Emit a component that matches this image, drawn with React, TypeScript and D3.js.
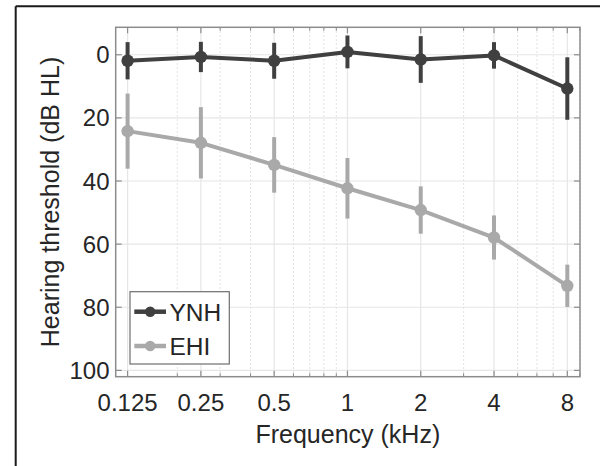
import React from "react";
import * as d3 from "d3";

const frequencies = [0.125, 0.25, 0.5, 1, 2, 4, 8];
const freqLabels = ["0.125", "0.25", "0.5", "1", "2", "4", "8"];
const ynhMean = [1.9, 0.7, 1.9, -0.9, 1.5, 0.2, 10.7];
const ynhErr = [5.9, 4.8, 5.7, 5.2, 7.4, 4.2, 9.9];
const ehiMean = [24.2, 27.9, 34.9, 42.3, 49.2, 57.9, 73.2];
const ehiErr = [11.9, 11.3, 8.8, 9.6, 7.5, 7.0, 6.7];
const yTicks = [0, 20, 40, 60, 80, 100];
const minorX = [0.2, 0.3, 0.4, 0.6, 0.7, 0.8, 0.9, 3, 5, 6, 7, 9];
const seriesNames = ["YNH", "EHI"];
const seriesColors = ["#404040", "#a9a9a9"];

const W = 600, H = 466;
const L = 115.7, R = 580, T = 27.3, B = 376.7;
const FONT = "'Liberation Sans', Arial, Helvetica, sans-serif";

export default function App() {
  const x = d3.scaleLog().domain([0.1117, 9.02]).range([L, R]);
  const y = d3.scaleLinear().domain([-8.7, 102]).range([T, B]);
  const series = [
    { name: seriesNames[0], mean: ynhMean, err: ynhErr, color: seriesColors[0] },
    { name: seriesNames[1], mean: ehiMean, err: ehiErr, color: seriesColors[1] },
  ];
  const line = d3.line<number>().x((_, i) => x(frequencies[i])).y((d) => y(d));
  const axisColor = "#8c8c8c";
  const textColor = "#262626";

  return (
    <svg width={W} height={H} style={{ position: "absolute", left: 0, top: 0, background: "#fff" }} fontFamily={FONT}>
      <rect x={0} y={0} width={W} height={H} fill="#fff" />
      {/* outer frame */}
      <line x1={15.7} y1={6.2} x2={W} y2={6.2} stroke="#1a1a1a" strokeWidth={2} />
      <line x1={15.7} y1={6.2} x2={15.7} y2={H} stroke="#1a1a1a" strokeWidth={2} />

      {/* minor grid */}
      {minorX.map((f) => (
        <line key={"mg" + f} x1={x(f)} x2={x(f)} y1={T} y2={B} stroke="#cfcfcf" strokeWidth={0.8} strokeDasharray="1.5,2.5" />
      ))}
      {/* major grid */}
      {frequencies.map((f) => (
        <line key={"gx" + f} x1={x(f)} x2={x(f)} y1={T} y2={B} stroke="#e6e6e6" strokeWidth={1.2} />
      ))}
      {yTicks.map((v) => (
        <line key={"gy" + v} x1={L} x2={R} y1={y(v)} y2={y(v)} stroke="#e6e6e6" strokeWidth={1.2} />
      ))}

      {/* axes box */}
      <rect x={L} y={T} width={R - L} height={B - T} fill="none" stroke={axisColor} strokeWidth={1.5} />
      {/* ticks */}
      {frequencies.map((f) => (
        <g key={"tx" + f}>
          <line x1={x(f)} x2={x(f)} y1={B} y2={B - 6} stroke={axisColor} strokeWidth={1.2} />
          <line x1={x(f)} x2={x(f)} y1={T} y2={T + 6} stroke={axisColor} strokeWidth={1.2} />
        </g>
      ))}
      {minorX.map((f) => (
        <g key={"mtx" + f}>
          <line x1={x(f)} x2={x(f)} y1={B} y2={B - 3.5} stroke={axisColor} strokeWidth={1} />
          <line x1={x(f)} x2={x(f)} y1={T} y2={T + 3.5} stroke={axisColor} strokeWidth={1} />
        </g>
      ))}
      {yTicks.map((v) => (
        <g key={"ty" + v}>
          <line x1={L} x2={L + 6} y1={y(v)} y2={y(v)} stroke={axisColor} strokeWidth={1.2} />
          <line x1={R} x2={R - 6} y1={y(v)} y2={y(v)} stroke={axisColor} strokeWidth={1.2} />
        </g>
      ))}

      {/* tick labels */}
      {frequencies.map((f, i) => (
        <text key={"lx" + f} x={x(f)} y={410.7} textAnchor="middle" fontSize={24} fill={textColor}>
          {freqLabels[i]}
        </text>
      ))}
      {yTicks.map((v) => (
        <text key={"ly" + v} x={109.5} y={y(v) + 8.6} textAnchor="end" fontSize={24} fill={textColor}>
          {v}
        </text>
      ))}

      {/* axis labels */}
      <text x={(L + R) / 2} y={443} textAnchor="middle" fontSize={25} fill={textColor}>
        Frequency (kHz)
      </text>
      <text
        transform={`translate(59.3, ${(T + B) / 2}) rotate(-90)`}
        textAnchor="middle"
        fontSize={25}
        fill={textColor}
      >
        Hearing threshold (dB HL)
      </text>

      {/* series */}
      {series.map((s) => (
        <g key={s.name}>
          <path d={line(s.mean) || ""} fill="none" stroke={s.color} strokeWidth={4} strokeLinejoin="round" />
          {s.mean.map((m, i) => (
            <line
              key={"e" + i}
              x1={x(frequencies[i])}
              x2={x(frequencies[i])}
              y1={y(m - s.err[i])}
              y2={y(m + s.err[i])}
              stroke={s.color}
              strokeWidth={4}
            />
          ))}
          {s.mean.map((m, i) => (
            <circle key={"c" + i} cx={x(frequencies[i])} cy={y(m)} r={6.2} fill={s.color} />
          ))}
        </g>
      ))}

      {/* legend */}
      <rect x={130} y={291.7} width={99.3} height={72.3} fill="#fff" stroke="#6e6e6e" strokeWidth={1.2} />
      {series.map((s, i) => {
        const cy = i === 0 ? 311.7 : 346;
        return (
          <g key={"lg" + s.name}>
            <line x1={134.3} x2={166} y1={cy} y2={cy} stroke={s.color} strokeWidth={4.5} />
            <circle cx={150.2} cy={cy} r={5.2} fill={s.color} />
            <text x={169.5} y={cy + 9.3} fontSize={24.5} fill={textColor}>
              {s.name}
            </text>
          </g>
        );
      })}
    </svg>
  );
}
